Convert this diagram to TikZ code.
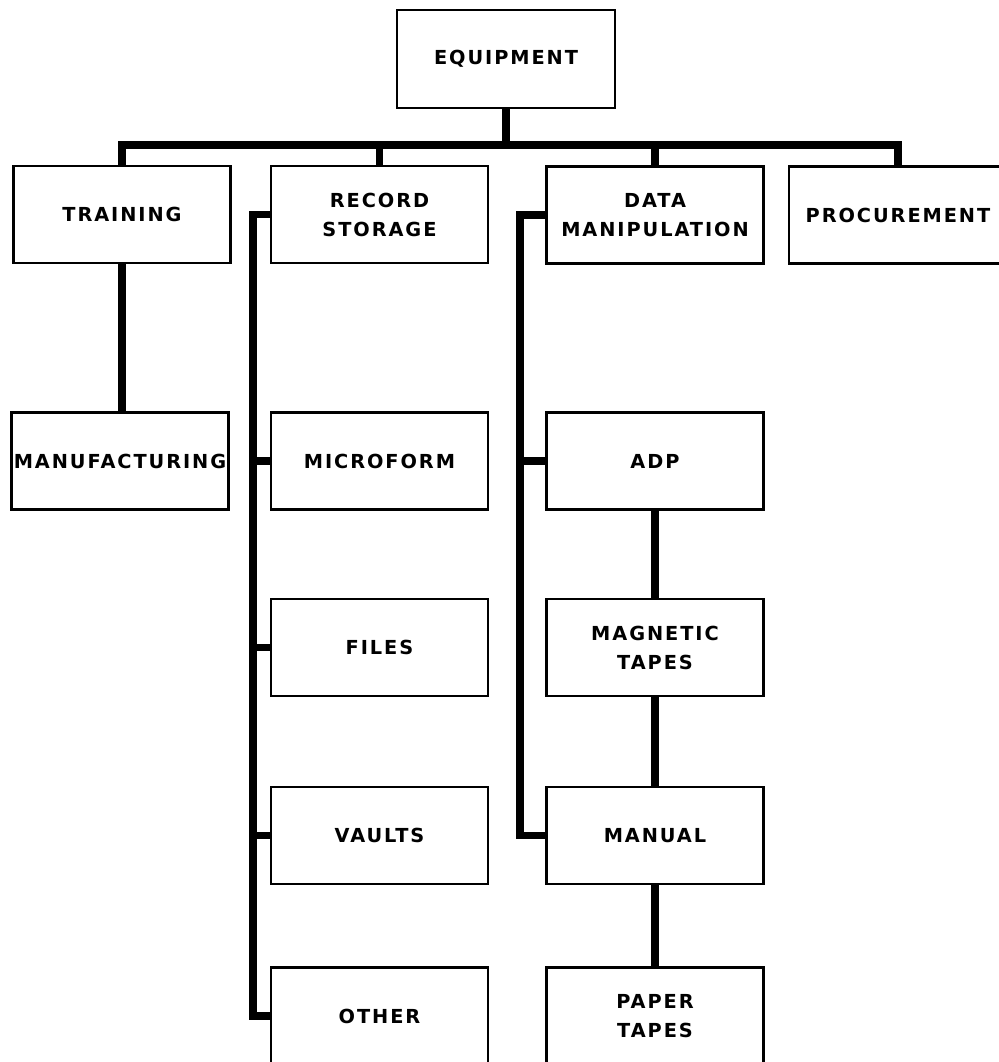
\documentclass[tikz,border=0pt]{standalone}
\usepackage{fontspec}
\newfontfamily\boxfont[LetterSpace=10]{DejaVu Sans}
\usepackage{tikz}
\usetikzlibrary{calc}

\begin{document}
\begin{tikzpicture}[x = 0.02cm, y = -0.02cm,
  unit/.style = {draw, line width = 1.3pt, minimum width = 4.34cm, minimum height = 1.94cm,
    inner sep = 0pt, align = center, font = \boxfont\bfseries\fontsize{11}{16.5}\selectfont},
  link/.style = {line width = 4pt}]
\useasboundingbox (0, 0) rectangle (998, 1062);
\node[unit, minimum width = 4.36cm, minimum height = 1.96cm] (equip) at (506, 59) {EQUIPMENT};
\node[unit] (train) at (122, 214.5) {TRAINING};
\node[unit] (rec) at (379.5, 214.5) {RECORD\\STORAGE};
\node[unit] (data) at (655, 215) {DATA\\MANIPULATION};
\node[unit, minimum width = 4.36cm] (proc) at (898, 215) {PROCUREMENT};
\node[unit] (manuf) at (120, 461) {MANUFACTURING};
\node[unit] (micro) at (379.5, 461) {MICROFORM};
\node[unit] (adp) at (655, 461) {ADP};
\node[unit] (files) at (379.5, 647.5) {FILES};
\node[unit] (mag) at (655, 647.5) {MAGNETIC\\TAPES};
\node[unit] (vaults) at (379.5, 835.5) {VAULTS};
\node[unit] (manual) at (655, 835.5) {MANUAL};
\node[unit] (other) at (379.5, 1016) {OTHER};
\node[unit] (paper) at (655, 1016) {PAPER\\TAPES};
\coordinate (bus) at (506, 145);
\coordinate (rtrunk) at (253, 0);
\coordinate (dtrunk) at (520, 0);
\draw[link] (equip.south) -- (bus);
\draw[link] (train.north) |- (bus) -| (proc.north);
\draw[link] (rec.north) -- (rec.north |- bus);
\draw[link] (data.north) -- (data.north |- bus);
\draw[link] (train.south) -- (train.south |- manuf.north);
\draw[link] (rec.west) -| (rtrunk |- other.west) -- (other.west);
\foreach \n in {micro, files, vaults}
  \draw[link] (\n.west) -- (rtrunk |- \n.west);
\draw[link] (data.west) -| (dtrunk |- manual.west) -- (manual.west);
\draw[link] (adp.west) -- (dtrunk |- adp.west);
\draw[link] (adp.south) -- (mag.north);
\draw[link] (mag.south) -- (manual.north);
\draw[link] (manual.south) -- (paper.north);
\end{tikzpicture}
\end{document}
